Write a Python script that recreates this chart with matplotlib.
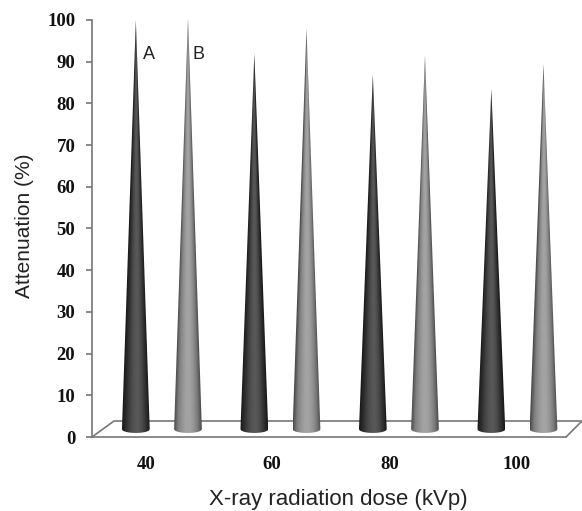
import numpy as np
import matplotlib
matplotlib.use("Agg")
import matplotlib.pyplot as plt
from matplotlib.patches import Polygon

# %% DATA
kvp = ["40", "60", "80", "100"]
series_a = [100, 92, 87, 83.5]
series_b = [100.5, 98, 91.5, 89.5]
yticks = list(range(0, 101, 10))

# %% STYLE
GRAY = "#777777"
W, H = 582, 511
LEFT, RIGHT, BOTTOM, TOP = 92, 566, 437, 20  # axes box in pixels
GROUP_CENTRE = 0.59
OFFSET = 0.22
BASE_HALF = 0.118
BASE_Y = 1.2
ELLIPSE = 0.9
# horizontal shading across a cone, left edge to right edge
dark_shade = [0.10, 0.18, 0.27, 0.33, 0.35, 0.30, 0.20, 0.10]
light_shade = [0.30, 0.50, 0.58, 0.64, 0.64, 0.58, 0.48, 0.30]


def cone(ax, x0, top, shade):
    # gradient follows the narrowing cone, picture clipped to the outline
    xs = np.linspace(x0 - BASE_HALF, x0 + BASE_HALF, 120)
    ys = np.linspace(0, top, 600)
    X, Y = np.meshgrid(xs, ys)
    frac = np.clip(1 - (Y - BASE_Y) / (top - BASE_Y), 1e-3, 1)
    U = np.clip((X - x0) / (BASE_HALF * frac), -1, 1)
    C = np.interp(U, np.linspace(-1, 1, len(shade)), shade)
    im = ax.imshow(C, extent=[xs[0], xs[-1], 0, top], origin="lower", aspect="auto",
                   cmap="gray", vmin=0, vmax=1, interpolation="bilinear", zorder=3)
    u = np.linspace(-1, 1, 41)
    outline = [(x0 - BASE_HALF, BASE_Y), (x0, top), (x0 + BASE_HALF, BASE_Y)]
    # front rim of the base, read right to left
    rim = [(x0 + BASE_HALF * v, BASE_Y + ELLIPSE * (1 - np.sqrt(1 - v**2)) - ELLIPSE * 0.25)
           for v in u[::-1]]
    patch = Polygon(outline + rim, closed=True, transform=ax.transData, fc="none", ec="none")
    ax.add_patch(patch)
    im.set_clip_path(patch)


fig = plt.figure(figsize=(W / 100, H / 100), dpi=100)
ax = fig.add_axes([LEFT / W, 1 - BOTTOM / H, (RIGHT - LEFT) / W, (BOTTOM - TOP) / H])

# floor of the 3D box
px_x = (RIGHT - LEFT) / len(kvp)
px_y = (BOTTOM - TOP) / 100
depth_x, depth_y = 22 / px_x, 16 / px_y
ax.plot([0, depth_x, len(kvp) + 16 / px_x, len(kvp)], [0, depth_y, depth_y, 0],
        color=GRAY, lw=1.2, clip_on=False, zorder=1)

for i in range(len(kvp)):
    cone(ax, i + GROUP_CENTRE - OFFSET, series_a[i], dark_shade)
    cone(ax, i + GROUP_CENTRE + OFFSET, series_b[i], light_shade)

ax.set_xlim(0, len(kvp))
ax.set_ylim(0, 100)

ax.text(0.48, 89.8, "A", fontsize=13, family="Liberation Sans", color="#222222", ha="center", va="bottom")
ax.text(0.90, 89.8, "B", fontsize=13, family="Liberation Sans", color="#222222", ha="center", va="bottom")

for side in ["top", "right"]:
    ax.spines[side].set_visible(False)
for side in ["left", "bottom"]:
    ax.spines[side].set_color(GRAY)
    ax.spines[side].set_linewidth(1.2)

ax.set_yticks(yticks)
ax.set_xticks([0.456, 1.52, 2.515, 3.586], kvp)
ax.tick_params(axis="y", length=4, width=1.2, color=GRAY, pad=8)
ax.tick_params(axis="x", length=0, pad=14)
for lab in ax.get_xticklabels() + ax.get_yticklabels():
    lab.set_family("Liberation Serif")
    lab.set_fontweight("bold")
    lab.set_fontsize(13.5)
    lab.set_color("#111111")

fig.text(24 / W, 1 - 226 / H, "Attenuation (%)", rotation=90, fontsize=15,
         family="Liberation Sans", color="#222222", ha="center", va="center")
fig.text(338 / W, 1 - 500 / H, "X-ray radiation dose (kVp)", fontsize=16,
         family="Liberation Sans", color="#222222", ha="center", va="center")

fig.savefig("out.png", dpi=100)
